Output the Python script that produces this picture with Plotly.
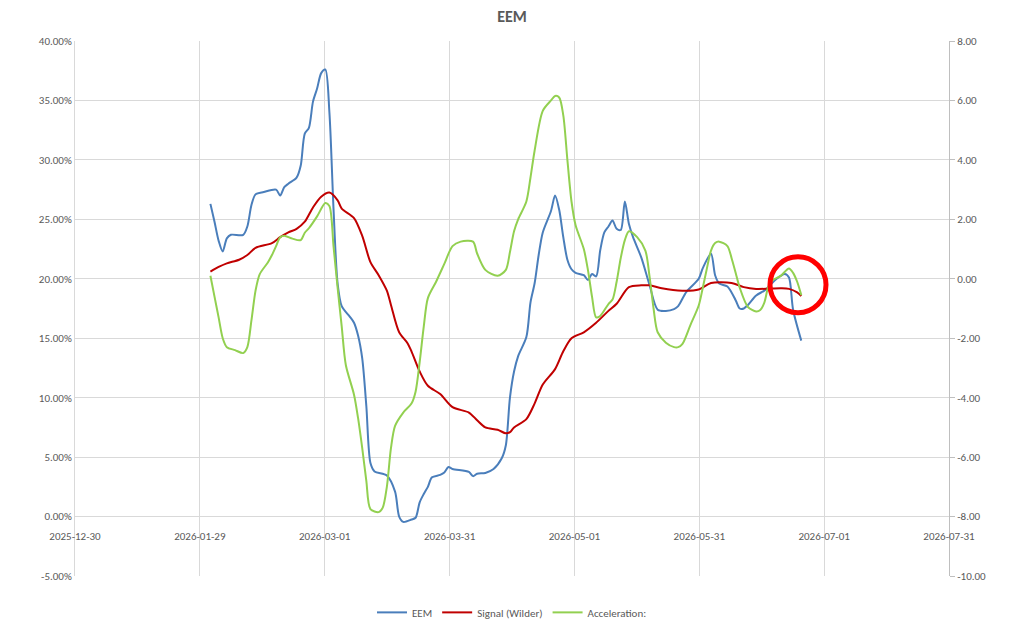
import pandas as pd
import numpy as np
import plotly.graph_objects as go

# ---------------- data ----------------
eem_dates = ["2026-02-01","2026-02-02","2026-02-03","2026-02-04","2026-02-05","2026-02-06","2026-02-09","2026-02-10",
             "2026-02-11","2026-02-12","2026-02-14","2026-02-17","2026-02-18","2026-02-19","2026-02-20","2026-02-22",
             "2026-02-23","2026-02-24","2026-02-25","2026-02-26","2026-02-27","2026-02-28","2026-03-01","2026-03-02",
             "2026-03-03","2026-03-04","2026-03-05","2026-03-07","2026-03-08","2026-03-09","2026-03-10","2026-03-11",
             "2026-03-12","2026-03-13","2026-03-16","2026-03-18","2026-03-19","2026-03-20","2026-03-22","2026-03-23",
             "2026-03-24","2026-03-25","2026-03-26","2026-03-27","2026-03-29","2026-03-30","2026-03-31","2026-04-01",
             "2026-04-05","2026-04-06","2026-04-07","2026-04-09","2026-04-11","2026-04-13","2026-04-14","2026-04-15",
             "2026-04-16","2026-04-17","2026-04-19","2026-04-20","2026-04-21","2026-04-22","2026-04-23","2026-04-25",
             "2026-04-26","2026-04-27","2026-04-28","2026-04-29","2026-04-30","2026-05-01","2026-05-03","2026-05-04",
             "2026-05-05","2026-05-06","2026-05-07","2026-05-08","2026-05-09","2026-05-10","2026-05-11","2026-05-12",
             "2026-05-13","2026-05-14","2026-05-15","2026-05-17","2026-05-19","2026-05-21","2026-05-23","2026-05-25",
             "2026-05-26","2026-05-28","2026-05-31","2026-06-01","2026-06-03","2026-06-04","2026-06-05","2026-06-07",
             "2026-06-09","2026-06-10","2026-06-11","2026-06-12","2026-06-14","2026-06-16","2026-06-17","2026-06-19",
             "2026-06-21","2026-06-22","2026-06-23","2026-06-25"]
eem_pct = [26.3,24.8,23.2,22.3,23.4,23.7,23.7,24.4,
           26.2,27.1,27.3,27.5,27.0,27.7,28.0,28.5,
           29.5,32.2,32.7,34.9,36.0,37.3,37.6,34.0,
           25.9,19.6,17.7,16.8,16.3,15.2,13.3,9.3,
           4.5,3.8,3.45,2.1,0.0,-0.45,-0.25,-0.1,
           1.2,1.9,2.5,3.3,3.5,3.7,4.17,4.0,
           3.75,3.4,3.6,3.67,4.0,4.9,6.0,10.0,
           12.2,13.5,15.1,18.0,19.6,22.0,23.9,25.7,
           27.0,25.8,23.5,21.6,20.8,20.5,20.3,19.9,
           20.4,20.2,22.4,23.9,24.4,24.9,24.2,24.1,
           26.5,24.6,23.5,21.8,19.5,17.4,17.3,17.45,
           17.7,18.9,20.0,20.9,22.1,20.3,19.6,19.35,
           18.2,17.5,17.5,17.8,18.6,19.0,19.3,20.0,
           20.4,20.1,17.4,14.8]

signal_dates = ["2026-02-01","2026-02-03","2026-02-05","2026-02-08","2026-02-10","2026-02-12","2026-02-16","2026-02-18",
                "2026-02-20","2026-02-22","2026-02-24","2026-02-26","2026-02-28","2026-03-02","2026-03-04","2026-03-05",
                "2026-03-08","2026-03-10","2026-03-12","2026-03-14","2026-03-16","2026-03-17","2026-03-19","2026-03-21",
                "2026-03-22","2026-03-24","2026-03-26","2026-03-29","2026-04-01","2026-04-05","2026-04-07","2026-04-09",
                "2026-04-12","2026-04-14","2026-04-15","2026-04-16","2026-04-19","2026-04-21","2026-04-23","2026-04-26",
                "2026-04-28","2026-04-30","2026-05-03","2026-05-06","2026-05-09","2026-05-11","2026-05-14","2026-05-17",
                "2026-05-19","2026-05-22","2026-05-27","2026-05-31","2026-06-03","2026-06-08","2026-06-11","2026-06-14",
                "2026-06-20","2026-06-22","2026-06-24","2026-06-25"]
signal_pct = [20.6,21.0,21.3,21.6,22.0,22.6,23.0,23.5,
              23.9,24.2,24.8,26.0,26.9,27.25,26.6,25.9,
              25.1,23.6,21.4,20.3,19.0,17.8,15.5,14.6,
              13.9,12.2,11.0,10.3,9.2,8.75,8.1,7.5,
              7.3,7.0,7.1,7.5,8.2,9.5,11.1,12.4,
              13.9,15.0,15.5,16.3,17.3,17.9,19.3,19.45,
              19.45,19.2,19.0,19.1,19.65,19.65,19.3,19.15,
              19.2,19.15,18.85,18.55]

accel_dates = ["2026-02-01","2026-02-02","2026-02-03","2026-02-04","2026-02-05","2026-02-07","2026-02-09","2026-02-10",
               "2026-02-11","2026-02-12","2026-02-13","2026-02-15","2026-02-16","2026-02-17","2026-02-18","2026-02-19",
               "2026-02-21","2026-02-23","2026-02-24","2026-02-25","2026-02-27","2026-03-01","2026-03-02","2026-03-03",
               "2026-03-04","2026-03-05","2026-03-06","2026-03-08","2026-03-09","2026-03-10","2026-03-11","2026-03-12",
               "2026-03-14","2026-03-15","2026-03-16","2026-03-17","2026-03-18","2026-03-20","2026-03-22","2026-03-23",
               "2026-03-24","2026-03-25","2026-03-26","2026-03-28","2026-03-30","2026-04-01","2026-04-03","2026-04-06",
               "2026-04-07","2026-04-09","2026-04-12","2026-04-14","2026-04-15","2026-04-16","2026-04-17","2026-04-19",
               "2026-04-20","2026-04-21","2026-04-23","2026-04-25","2026-04-26","2026-04-27","2026-04-28","2026-04-29",
               "2026-04-30","2026-05-01","2026-05-03","2026-05-04","2026-05-05","2026-05-06","2026-05-07","2026-05-09",
               "2026-05-10","2026-05-11","2026-05-12","2026-05-13","2026-05-14","2026-05-16","2026-05-18","2026-05-19",
               "2026-05-20","2026-05-21","2026-05-23","2026-05-25","2026-05-26","2026-05-27","2026-05-29","2026-05-31",
               "2026-06-01","2026-06-02","2026-06-03","2026-06-04","2026-06-05","2026-06-07","2026-06-08","2026-06-09",
               "2026-06-10","2026-06-12","2026-06-14","2026-06-15","2026-06-16","2026-06-17","2026-06-18","2026-06-20",
               "2026-06-22","2026-06-23","2026-06-24","2026-06-25"]
accel_vals = [0.1,-0.6,-1.3,-2.0,-2.3,-2.4,-2.5,-2.3,
              -1.4,-0.4,0.15,0.55,0.8,1.1,1.4,1.45,
              1.35,1.3,1.55,1.7,2.1,2.55,2.45,1.1,
              -0.3,-1.6,-2.9,-3.9,-4.7,-5.7,-6.8,-7.75,
              -7.85,-7.7,-7.0,-5.7,-4.95,-4.5,-4.2,-3.8,
              -2.8,-1.6,-0.65,-0.1,0.5,1.1,1.25,1.25,
              0.85,0.3,0.1,0.3,0.9,1.6,2.0,2.6,
              3.4,4.3,5.65,6.0,6.15,6.1,5.5,4.0,
              2.6,1.8,1.0,0.3,-0.6,-1.3,-1.25,-0.85,
              -0.7,-0.1,0.7,1.3,1.6,1.4,0.95,0.1,
              -1.0,-1.8,-2.15,-2.3,-2.3,-2.2,-1.55,-0.9,
              -0.3,0.35,0.95,1.2,1.25,1.1,0.7,0.2,
              -0.3,-0.95,-1.1,-1.05,-0.8,-0.25,-0.05,0.1,
              0.35,0.2,-0.1,-0.55]

x_tick_labels = ["2025-12-30","2026-01-29","2026-03-01","2026-03-31","2026-05-01","2026-05-31","2026-07-01","2026-07-31"]
left_ticks = [-0.05, 0.0, 0.05, 0.10, 0.15, 0.20, 0.25, 0.30, 0.35, 0.40]
right_ticks = [-10, -8, -6, -4, -2, 0, 2, 4, 6, 8]

# ---------------- figure ----------------
GRID = "#D9D9D9"
TXT = "#595959"
FONT = "Carlito, Calibri, Liberation Sans, Arial, sans-serif"

x_start = pd.Timestamp(x_tick_labels[0])
x_end = pd.Timestamp(x_tick_labels[-1])
span_days = (x_end - x_start) / pd.Timedelta(days=1)
n_int = len(x_tick_labels) - 1
x_tickvals = [x_start + pd.Timedelta(days=k * span_days / n_int) for k in range(len(x_tick_labels))]

fig = go.Figure()
fig.add_trace(go.Scatter(x=pd.to_datetime(eem_dates), y=np.array(eem_pct) / 100, name="EEM",
                         mode="lines", line=dict(color="#4A7EBB", width=2, shape="spline", smoothing=0.8),
                         yaxis="y"))
fig.add_trace(go.Scatter(x=pd.to_datetime(signal_dates), y=np.array(signal_pct) / 100, name="Signal (Wilder)",
                         mode="lines", line=dict(color="#C00000", width=2, shape="spline", smoothing=0.8),
                         yaxis="y"))
fig.add_trace(go.Scatter(x=pd.to_datetime(accel_dates), y=accel_vals, name="Acceleration:",
                         mode="lines", line=dict(color="#92D050", width=2, shape="spline", smoothing=0.8),
                         yaxis="y2"))

# red highlight circle around the latest values
circle_center = pd.Timestamp(signal_dates[-1]) - pd.Timedelta(days=0.8)
fig.add_shape(type="circle", xref="x", yref="y", xsizemode="pixel", ysizemode="pixel",
              xanchor=circle_center, yanchor=0.195, x0=-28, x1=28, y0=-28, y1=28,
              line=dict(color="#FF0000", width=5))

fig.update_layout(
    width=1024, height=633,
    margin=dict(l=75, r=75, t=41, b=57, autoexpand=False),
    paper_bgcolor="white", plot_bgcolor="white",
    font=dict(family=FONT, size=11, color=TXT),
    title=dict(text="<b>EEM</b>", x=0.5, xanchor="center", y=1 - 16 / 633, yanchor="middle",
               font=dict(family=FONT, size=16, color=TXT)),
    showlegend=True,
    legend=dict(orientation="h", x=0.5, xanchor="center", y=-0.068, yanchor="middle",
                font=dict(family=FONT, size=11, color=TXT), itemwidth=30, bgcolor="rgba(0,0,0,0)"),
    xaxis=dict(type="date", range=[x_start, x_end], tickvals=x_tickvals, ticktext=x_tick_labels,
               showgrid=True, gridcolor=GRID, gridwidth=1, zeroline=False, showline=False,
               anchor="free", position=1 / 9, ticks="", ticklabelstandoff=11, automargin=False,
               tickfont=dict(size=11, color=TXT)),
    yaxis=dict(range=[-0.05, 0.40], tickvals=left_ticks,
               ticktext=[f"{v * 100:.2f}%" for v in left_ticks], automargin=False,
               showgrid=True, gridcolor=GRID, gridwidth=1, zeroline=False,
               showline=True, linecolor=GRID, ticks="", tickfont=dict(size=11, color=TXT)),
    yaxis2=dict(range=[-10, 8], tickvals=right_ticks, ticktext=[f"{v:.2f}" for v in right_ticks],
                overlaying="y", side="right", showgrid=False, zeroline=False, automargin=False,
                showline=True, linecolor="#BFBFBF", ticks="outside", ticklen=5, tickcolor="#BFBFBF",
                tickfont=dict(size=11, color=TXT)),
    hovermode=False,
)

fig.write_html("out.html")
